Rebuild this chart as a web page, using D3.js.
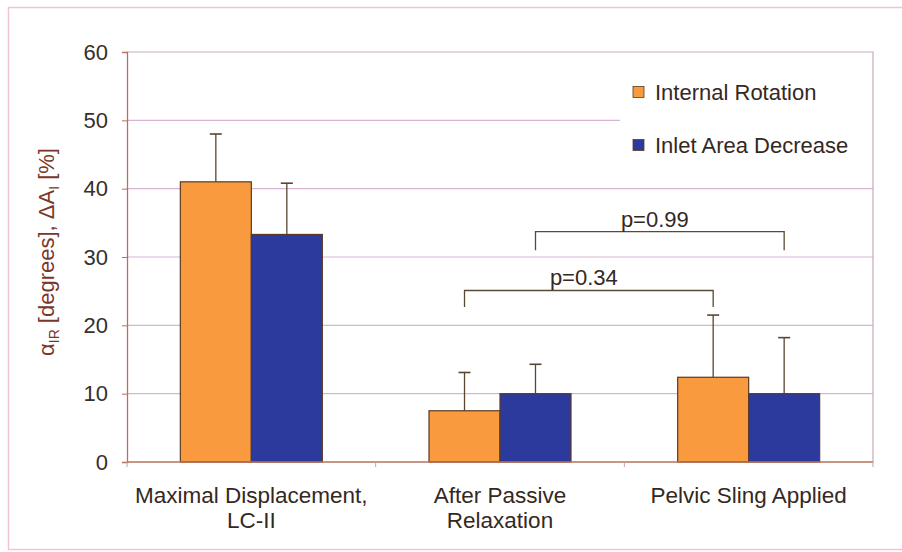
<!DOCTYPE html>
<html><head><meta charset="utf-8">
<script src="https://cdn.jsdelivr.net/npm/d3@7"></script>
<style>body{margin:0;background:#fff;} text{font-family:"Liberation Sans",Arial,sans-serif;}</style>
</head><body><svg id="c" width="902" height="552"></svg>
<script>
const categories = [["Maximal Displacement,", "LC-II"], ["After Passive", "Relaxation"], ["Pelvic Sling Applied"]];
const seriesNames = ["Internal Rotation", "Inlet Area Decrease"];
const internalRotation = [41.0, 7.5, 12.4];
const internalRotationErr = [7.0, 5.6, 9.1];
const inletAreaDecrease = [33.3, 10.0, 10.0];
const inletAreaDecreaseErr = [7.5, 4.3, 8.2];
const yTicks = [0, 10, 20, 30, 40, 50, 60];
const brackets = [
  {series: 0, from: 1, to: 2, top: 25.1, leg: 22.7, label: "p=0.34"},
  {series: 1, from: 1, to: 2, top: 33.7, leg: 31.0, label: "p=0.99"}
];
const colors = ["#f99a3e", "#2c3a9e"];

const svg = d3.select("#c");
const L = 127, R = 873, T = 52, B = 462;

// outer frame
svg.append("rect").attr("x", 8.5).attr("y", 7.5).attr("width", 900).attr("height", 542)
  .attr("fill", "#fff").attr("stroke", "#f0c4d0").attr("stroke-width", 1.5);

const y = d3.scaleLinear().domain([0, 60]).range([B, T]);
const x0 = d3.scaleBand().domain(d3.range(categories.length)).range([L, R]);
const bw = x0.bandwidth(), gw = bw * 0.571;
const x1 = d3.scaleBand().domain([0, 1]).range([(bw - gw) / 2, (bw + gw) / 2]);

// gridlines
svg.append("g").selectAll("line").data(yTicks.filter(t => t > 0 && t < 60)).join("line")
  .attr("x1", L).attr("x2", d => d === 50 ? 620 : R)
  .attr("y1", d => y(d)).attr("y2", d => y(d))
  .attr("stroke", "#d9b3d3").attr("stroke-width", 1.2);
// plot border top/right
svg.append("path").attr("d", `M${L},${y(60)}H${R}V${B}`).attr("fill", "none")
  .attr("stroke", "#c9a9c0").attr("stroke-width", 1.2);

const data = [internalRotation, inletAreaDecrease];
const errs = [internalRotationErr, inletAreaDecreaseErr];
const g = svg.append("g");
data.forEach((vals, s) => {
  vals.forEach((v, i) => {
    const bx = x0(i) + x1(s);
    g.append("rect").attr("x", bx).attr("y", y(v)).attr("width", x1.bandwidth()).attr("height", y(0) - y(v))
      .attr("fill", colors[s]).attr("stroke", "#5a3a22").attr("stroke-width", 1.2);
    const cx = bx + x1.bandwidth() / 2;
    const e = y(v + errs[s][i]);
    g.append("line").attr("x1", cx).attr("x2", cx).attr("y1", y(v)).attr("y2", e)
      .attr("stroke", "#5a4530").attr("stroke-width", 1.3);
    g.append("line").attr("x1", cx - 6).attr("x2", cx + 6).attr("y1", e).attr("y2", e)
      .attr("stroke", "#5a4530").attr("stroke-width", 1.6);
  });
});

// axes
const yAxis = d3.axisLeft(y).tickValues(yTicks).tickSize(5).tickPadding(14);
const ya = svg.append("g").attr("transform", `translate(${L},0)`).call(yAxis);
ya.select(".domain").attr("stroke", "#b8705a").attr("stroke-width", 1.3);
ya.selectAll(".tick line").attr("stroke", "#b8705a");
ya.selectAll(".tick text").attr("font-size", 22).attr("fill", "#35302c").attr("font-family", "Liberation Sans, Arial");

const xa = svg.append("g").attr("transform", `translate(0,${B})`);
xa.append("line").attr("x1", L).attr("x2", R).attr("y1", 0).attr("y2", 0).attr("stroke", "#b8705a").attr("stroke-width", 1.3);
xa.selectAll("line.tk").data(d3.range(categories.length + 1)).join("line").attr("class", "tk")
  .attr("x1", d => L + d * bw).attr("x2", d => L + d * bw).attr("y1", 0).attr("y2", 5)
  .attr("stroke", "#c8a0a0");
categories.forEach((lines, i) => {
  const t = svg.append("text").attr("x", x0(i) + bw / 2).attr("y", 503).attr("text-anchor", "middle")
    .attr("font-size", 22.5).attr("fill", "#35281f");
  lines.forEach((ln, k) => t.append("tspan").attr("x", x0(i) + bw / 2).attr("dy", k === 0 ? 0 : 25).text(ln));
});

// y title
const yt = svg.append("text").attr("transform", "translate(54,252) rotate(-90)").attr("text-anchor", "middle")
  .attr("font-size", 22).attr("fill", "#7a3628");
yt.append("tspan").text("α");
yt.append("tspan").attr("font-size", 14).attr("dy", 5).text("IR");
yt.append("tspan").attr("dy", -5).text(" [degrees],  ΔA");
yt.append("tspan").attr("font-size", 14).attr("dy", 5).text("I");
yt.append("tspan").attr("dy", -5).text(" [%]");

// significance brackets
brackets.forEach(b => {
  const xa_ = x0(b.from) + x1(b.series) + x1.bandwidth() / 2;
  const xb_ = x0(b.to) + x1(b.series) + x1.bandwidth() / 2;
  svg.append("path").attr("d", `M${xa_},${y(b.leg)}V${y(b.top)}H${xb_}V${y(b.leg)}`)
    .attr("fill", "none").attr("stroke", "#5a4a35").attr("stroke-width", 1.3);
  svg.append("text").attr("x", (xa_ + xb_) / 2 - 5).attr("y", y(b.top) - 5).attr("text-anchor", "middle")
    .attr("font-size", 22).attr("fill", "#35281f").text(b.label);
});

// legend
const lg = svg.append("g");
lg.append("rect").attr("x", 621).attr("y", 60).attr("width", 250).attr("height", 115).attr("fill", "#fff");
seriesNames.forEach((n, i) => {
  const cy = 92 + i * 53;
  lg.append("rect").attr("x", 633).attr("y", cy - 5.5).attr("width", 11).attr("height", 11)
    .attr("fill", colors[i]).attr("stroke", "#5a3a22").attr("stroke-width", 0.8);
  lg.append("text").attr("x", 655).attr("y", cy + 8).attr("font-size", 22).attr("fill", "#35281f").text(n);
});
</script></body></html>
